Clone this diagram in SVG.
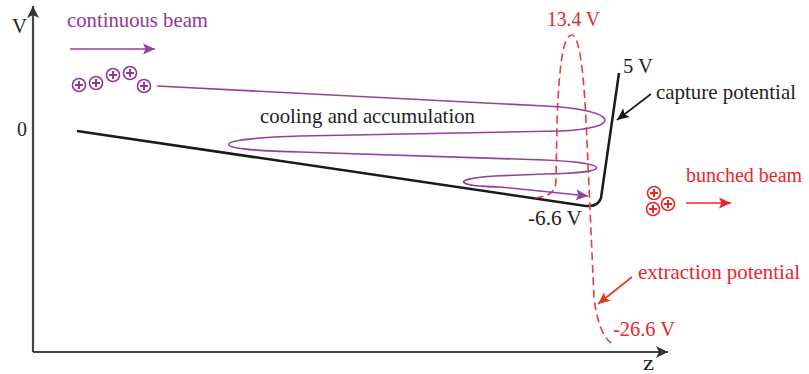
<svg xmlns="http://www.w3.org/2000/svg" width="809" height="374" viewBox="0 0 809 374">
<style>
text{font-family:"Liberation Serif","Times New Roman",serif;font-size:22px}
.k{fill:#231f20}
.p{fill:#8e3a96}
.r{fill:#e8262b}
.axis{stroke:#444;stroke-width:2.2;fill:none}
.pot{stroke:#1a1a1a;stroke-width:2.5;fill:none;stroke-linejoin:round}
.beam{stroke:#93419b;stroke-width:1.6;fill:none}
.ext{stroke:#ee3b36;stroke-width:1.6;fill:none;stroke-dasharray:8 4.5}
.ionp circle{fill:#fff;stroke:#8e3a96;stroke-width:1.6}
.ionp path{stroke:#8e3a96;stroke-width:2}
.ionr circle{fill:#fff;stroke:#e8262b;stroke-width:1.6}
.ionr path{stroke:#e8262b;stroke-width:2}
</style>
<defs>
<marker id="ah" markerWidth="14" markerHeight="12" refX="12" refY="6" orient="auto" markerUnits="userSpaceOnUse"><path d="M0,0 L12,6 L0,12 L3,6 Z" fill="#333"/></marker>
<marker id="ahp" markerWidth="14" markerHeight="12" refX="12" refY="6" orient="auto" markerUnits="userSpaceOnUse"><path d="M0,0.5 L12,6 L0,11.5 L2.5,6 Z" fill="#93419b"/></marker>
<marker id="ahr" markerWidth="14" markerHeight="12" refX="12" refY="6" orient="auto" markerUnits="userSpaceOnUse"><path d="M0,0.5 L12,6 L0,11.5 L2.5,6 Z" fill="#e8262b"/></marker>
<marker id="ahk" markerWidth="14" markerHeight="12" refX="12" refY="6" orient="auto" markerUnits="userSpaceOnUse"><path d="M0,0.5 L12,6 L0,11.5 L2.5,6 Z" fill="#1a1a1a"/></marker>
<marker id="aho" markerWidth="14" markerHeight="12" refX="12" refY="6" orient="auto" markerUnits="userSpaceOnUse"><path d="M0,0.5 L12,6 L0,11.5 L2.5,6 Z" fill="#dd3b2a"/></marker>
<g id="ionP" class="ionp"><circle r="6.5"/><path d="M-4,0 H4 M0,-4 V4"/></g>
<g id="ionR" class="ionr"><circle r="6.5"/><path d="M-4,0 H4 M0,-4 V4"/></g>
</defs>

<g id="axes">
<path class="axis" d="M33,352 V6" marker-end="url(#ah)"/>
<path class="axis" d="M33,352 H668" marker-end="url(#ah)"/>
<text class="k" x="12" y="33" textLength="15" lengthAdjust="spacingAndGlyphs">V</text>
<text class="k" x="643" y="370" textLength="11" lengthAdjust="spacingAndGlyphs">z</text>
<text class="k" x="17" y="136" textLength="10" lengthAdjust="spacingAndGlyphs">0</text>
</g>

<g id="connectors">
<path class="pot" d="M77,131 L586,206 Q598,207 601,198 L619,73"/>
<path class="ext" d="M535,198 C550,196 556,192 556,180 L557,120 C560,45 566,35 572,35 C578,35 583,60 586,120 L594,298 C597,322 603,337 611,343"/>
<path class="beam" d="M157,86 L545,106 C622,110 622,129 560,131 L300,136 C205,139 205,150 300,152 L545,160 C614,163 614,173 545,174 L495,176 C450,179 455,186 500,187 L588,196" marker-end="url(#ahp)"/>
<path d="M70,49 H155" stroke="#93419b" stroke-width="1.6" marker-end="url(#ahp)"/>
<path d="M686,203 H731" stroke="#e8262b" stroke-width="1.6" marker-end="url(#ahr)"/>
<path d="M651,94 L617,120" stroke="#1a1a1a" stroke-width="1.6" marker-end="url(#ahk)"/>
<path d="M632,277 L598,304" stroke="#dd3b2a" stroke-width="1.6" marker-end="url(#aho)"/>
</g>

<g id="continuous-beam">
<text class="p" x="67" y="27" textLength="141" lengthAdjust="spacingAndGlyphs">continuous beam</text>
<use href="#ionP" x="79" y="85"/>
<use href="#ionP" x="96" y="83"/>
<use href="#ionP" x="113" y="75"/>
<use href="#ionP" x="130" y="73"/>
<use href="#ionP" x="144" y="86"/>
</g>

<g id="cooling">
<text class="k" x="260" y="123" textLength="215" lengthAdjust="spacingAndGlyphs">cooling and accumulation</text>
</g>

<g id="capture">
<text class="k" x="623" y="73" textLength="30" lengthAdjust="spacingAndGlyphs">5 V</text>
<text class="k" x="656" y="99" textLength="140" lengthAdjust="spacingAndGlyphs">capture potential</text>
<text class="k" x="528" y="225" textLength="54" lengthAdjust="spacingAndGlyphs">-6.6 V</text>
</g>

<g id="extraction">
<text class="r" x="547" y="26" textLength="53" lengthAdjust="spacingAndGlyphs">13.4 V</text>
<text class="r" x="638" y="279" textLength="162" lengthAdjust="spacingAndGlyphs">extraction potential</text>
<text class="r" x="613" y="336" textLength="62" lengthAdjust="spacingAndGlyphs">-26.6 V</text>
</g>

<g id="bunched-beam">
<text class="r" x="686" y="182" style="font-size:20px">bunched beam</text>
<use href="#ionR" x="654" y="193"/>
<use href="#ionR" x="653" y="209"/>
<use href="#ionR" x="668" y="204"/>
</g>
</svg>
